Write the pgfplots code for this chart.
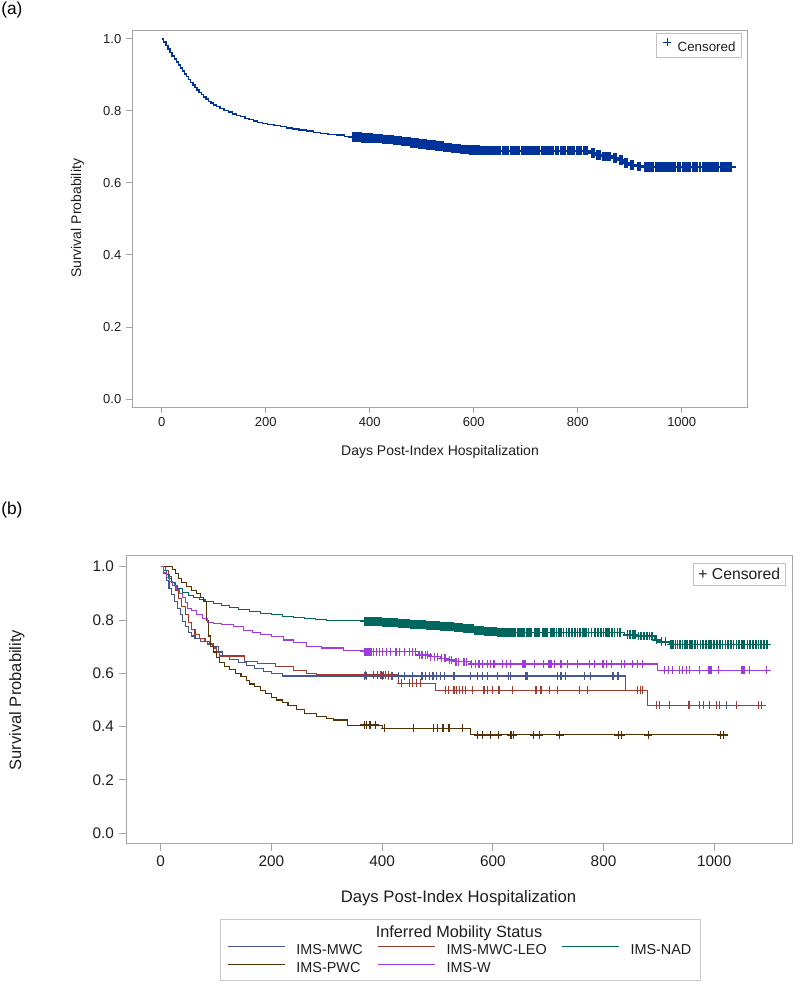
\documentclass[border=0pt]{standalone}
\usepackage{fontspec}
\setmainfont{Liberation Sans}
\usepackage{pgfplots}
\pgfplotsset{compat=1.18}
\definecolor{kmblue}{RGB}{0,51,153}
\definecolor{mwc}{HTML}{445694}
\definecolor{leo}{HTML}{A23A2E}
\definecolor{nad}{HTML}{01665E}
\definecolor{pwc}{HTML}{543005}
\definecolor{imsw}{HTML}{9D3CDB}
\definecolor{axisgray}{RGB}{165,165,165}
\definecolor{txt}{RGB}{30,30,30}
\begin{document}
\begin{tikzpicture}
\useasboundingbox (0,0) rectangle (600pt,-741pt);
\node[anchor=north west, inner sep=0pt, font=\fontsize{13pt}{15pt}\selectfont] at (0.75pt,-1.5pt) {(a)};
\node[anchor=north west, inner sep=0pt, font=\fontsize{13pt}{15pt}\selectfont] at (0.75pt,-376.5pt) {(b)};
% ---------------- panel (a)
\begin{axis}[
  at={(99pt,-305.25pt)}, anchor=south west,
  scale only axis, width=461.55pt, height=282.4pt,
  xmin=-57.1, xmax=1126.3, ymin=-0.0222, ymax=1.0236,
  axis line style={axisgray, line width=0.75pt},
  tick style={axisgray, line width=0.75pt},
  tick align=outside, tick pos=left, major tick length=4.5pt,
  /pgf/number format/assume math mode=true,
  xtick={0,200,400,600,800,1000}, xticklabels={0,200,400,600,800,1000},
  ytick={0,0.2,0.4,0.6,0.8,1}, yticklabels={0.0,0.2,0.4,0.6,0.8,1.0},
  ticklabel style={font=\fontsize{9.75pt}{11pt}\selectfont, text=txt},
  xlabel={Days Post-Index Hospitalization}, ylabel={Survival Probability},
  every axis x label/.style={at={(axis description cs:0.5005,-0.1195)}, anchor=center, font=\fontsize{10.5pt}{12pt}\selectfont, text=txt},
  every axis y label/.style={at={(axis description cs:-0.0886,0.5007)}, anchor=center, rotate=90, font=\fontsize{10.5pt}{12pt}\selectfont, text=txt},
  legend style={at={(axis description cs:0.9912,0.994)}, anchor=north east, draw=axisgray!70, fill=white,
    inner xsep=4.7pt, inner ysep=4.1pt, font=\fontsize{10pt}{12pt}\selectfont, column sep=4pt,
    nodes={inner sep=0pt, text height=7.5pt, text depth=0pt, text=txt}},
  legend image code/.code={\draw[#1] plot coordinates {(3.5pt,3pt)}; \path (0pt,0pt) (7pt,0pt);},
]
\addplot[const plot, kmblue, line width=1pt, forget plot] coordinates {
(0,1.000) (4,0.992) (8,0.982) (12,0.972) (16,0.962) (20,0.953) (24,0.944) (28,0.936) (32,0.928) (36,0.919)
(40,0.911) (44,0.903) (48,0.895) (52,0.887) (56,0.879) (60,0.872) (64,0.865) (68,0.858) (72,0.851) (76,0.845)
(80,0.839) (85,0.833) (90,0.827) (95,0.822) (100,0.817) (106,0.812) (112,0.807) (120,0.802) (128,0.797) (136,0.792)
(144,0.788) (152,0.784) (160,0.780) (168,0.776) (176,0.772) (184,0.768) (194,0.765) (204,0.762) (216,0.759) (228,0.756)
(240,0.753) (252,0.750) (264,0.747) (278,0.744) (292,0.741) (306,0.738) (320,0.735) (336,0.733) (352,0.730) (366,0.727)
(385,0.725) (405,0.723) (425,0.721) (445,0.718) (462,0.715) (478,0.711) (494,0.708) (510,0.705) (526,0.702) (542,0.699)
(558,0.696) (574,0.693) (592,0.691) (612,0.690) (826,0.684) (836,0.678) (846,0.674) (866,0.670) (878,0.664) (888,0.656)
(898,0.650) (912,0.646) (926,0.644) (1096,0.644)};
\addplot[only marks, mark=+, kmblue, mark size=3.6pt, mark options={line width=1.5pt}, forget plot] coordinates {
(368,0.727) (370,0.727) (372,0.727) (374,0.727) (376,0.727) (378,0.727) (380,0.727) (382,0.727) (384,0.727)
(386,0.725) (388,0.725) (390,0.725) (392,0.725) (394,0.725) (396,0.725) (398,0.725) (400,0.725) (402,0.725) (404,0.725)
(406,0.723) (408,0.723) (410,0.723) (412,0.723) (414,0.723) (416,0.723) (418,0.723) (420,0.723) (422,0.723) (424,0.723)
(426,0.721) (428,0.721) (430,0.721) (432,0.721) (434,0.721) (436,0.721) (438,0.721) (440,0.721) (442,0.721) (444,0.721)
(446,0.718) (448,0.718) (450,0.718) (452,0.718) (454,0.718) (456,0.718) (458,0.718) (460,0.718)
(463,0.715) (465,0.715) (467,0.715) (469,0.715) (471,0.715) (473,0.715) (475,0.715) (477,0.715)
(479,0.711) (481,0.711) (483,0.711) (485,0.711) (487,0.711) (489,0.711) (491,0.711) (493,0.711)
(495,0.708) (497,0.708) (499,0.708) (501,0.708) (503,0.708) (505,0.708) (507,0.708) (509,0.708)
(511,0.705) (513,0.705) (515,0.705) (517,0.705) (519,0.705) (521,0.705) (523,0.705) (525,0.705)
(527,0.702) (529,0.702) (531,0.702) (533,0.702) (535,0.702) (537,0.702) (539,0.702) (541,0.702)
(543,0.699) (545,0.699) (547,0.699) (549,0.699) (551,0.699) (553,0.699) (555,0.699) (557,0.699)
(559,0.696) (561,0.696) (563,0.696) (565,0.696) (567,0.696) (569,0.696) (571,0.696) (573,0.696)
(575,0.693) (577,0.693) (579,0.693) (581,0.693) (583,0.693) (585,0.693) (587,0.693) (589,0.693) (591,0.693)
(593,0.691) (595,0.691) (597,0.691) (599,0.691) (601,0.691) (603,0.691) (605,0.691) (607,0.691) (609,0.691) (611,0.691)
(613,0.690) (615,0.690) (617,0.690) (619,0.690) (621,0.690) (623,0.690) (625,0.690) (627,0.690) (629,0.690) (631,0.690)
(633,0.690) (635,0.690) (637,0.690) (639,0.690) (641,0.690) (643,0.690) (645,0.690) (647,0.690) (649,0.690) (651,0.690)
(656,0.690) (658,0.690) (660,0.690) (662,0.690) (664,0.690) (666,0.690) (671,0.690) (673,0.690) (675,0.690) (677,0.690)
(679,0.690) (681,0.690) (683,0.690) (685,0.690) (687,0.690) (692,0.690) (694,0.690) (696,0.690) (698,0.690) (700,0.690)
(702,0.690) (707,0.690) (709,0.690) (711,0.690) (713,0.690) (715,0.690) (717,0.690) (722,0.690) (724,0.690) (726,0.690)
(731,0.690) (736,0.690) (738,0.690) (740,0.690) (745,0.690) (747,0.690) (749,0.690) (751,0.690) (753,0.690) (758,0.690)
(760,0.690) (762,0.690) (767,0.690) (769,0.690) (771,0.690) (776,0.690) (781,0.690) (783,0.690) (788,0.690) (790,0.690)
(792,0.690) (798,0.690) (800,0.690) (802,0.690) (806,0.690) (812,0.690) (816,0.690) (818,0.690)
(828,0.684) (832,0.684) (838,0.678) (841,0.678) (843,0.678) (849,0.674) (852,0.674) (855,0.674) (858,0.674) (862,0.674)
(869,0.670) (872,0.670) (874,0.670) (881,0.664) (883,0.664) (885,0.664) (891,0.656) (894,0.656) (902,0.650) (905,0.650)
(907,0.650) (915,0.646) (918,0.646) (920,0.646)
(929,0.644) (931,0.644) (933,0.644) (935,0.644) (937,0.644) (939,0.644) (941,0.644) (945,0.644) (950,0.644) (954,0.644)
(958,0.644) (962,0.644) (966,0.644) (968,0.644) (971,0.644) (975,0.644) (977,0.644) (980,0.644) (984,0.644) (986,0.644)
(988,0.644) (993,0.644) (995,0.644) (997,0.644) (1002,0.644) (1006,0.644) (1011,0.644) (1013,0.644) (1016,0.644) (1021,0.644)
(1025,0.644) (1030,0.644) (1035,0.644) (1040,0.644) (1045,0.644) (1047,0.644) (1050,0.644) (1054,0.644) (1058,0.644) (1062,0.644)
(1066,0.644) (1070,0.644) (1075,0.644) (1080,0.644) (1084,0.644) (1086,0.644) (1088,0.644) (1090,0.644) (1092,0.644) (1095,0.644)};
\addlegendimage{only marks, mark=+, color=kmblue, mark size=3pt, mark options={line width=0.8pt, draw=kmblue}}
\addlegendentry{Censored}
\end{axis}
% ---------------- panel (b)
\begin{axis}[
  at={(94.5pt,-632.475pt)}, anchor=south west,
  scale only axis, width=499.7pt, height=215.7pt,
  xmin=-62.7, xmax=1141, ymin=-0.0375, ymax=1.0413,
  axis line style={axisgray, line width=0.75pt},
  tick style={axisgray, line width=0.75pt},
  tick align=outside, tick pos=left, major tick length=5.5pt,
  /pgf/number format/assume math mode=true,
  xtick={0,200,400,600,800,1000}, xticklabels={0,200,400,600,800,1000},
  ytick={0,0.2,0.4,0.6,0.8,1}, yticklabels={0.0,0.2,0.4,0.6,0.8,1.0},
  ticklabel style={font=\fontsize{11.5pt}{13pt}\selectfont, text=txt},
  xlabel={Days Post-Index Hospitalization}, ylabel={Survival Probability},
  every axis x label/.style={at={(axis description cs:0.499,-0.1912)}, anchor=center, font=\fontsize{12.5pt}{14pt}\selectfont, text=txt},
  every axis y label/.style={at={(axis description cs:-0.164,0.498)}, anchor=center, rotate=90, font=\fontsize{12.4pt}{14pt}\selectfont, text=txt},
  legend columns=3,
  legend cell align=left,
  legend style={at={(axis description cs:0.1516,-0.3484)}, anchor=north west, draw=none, fill=none,
    inner sep=0pt, font=\fontsize{10.8pt}{12pt}\selectfont, column sep=0pt, row sep=3.5pt,
    nodes={inner sep=0pt, text height=8pt, text depth=2.2pt, text=txt},
    /tikz/every odd column/.append style={column sep=8.25pt},
    /tikz/every even column/.append style={column sep=11pt}},
  legend image code/.code={\draw[#1, line width=0.9pt] (0pt,3.2pt) -- (42.75pt,3.2pt);},
]
\addplot[const plot, mwc, line width=0.8pt] coordinates {
(0,1.000) (5,0.975) (10,0.950) (15,0.920) (20,0.895) (25,0.870) (30,0.845) (35,0.820) (40,0.795) (45,0.775)
(50,0.755) (55,0.740) (62,0.730) (72,0.720) (84,0.710) (94,0.700) (104,0.680) (112,0.662) (125,0.652) (140,0.642)
(155,0.630) (170,0.618) (185,0.608) (200,0.600) (220,0.590) (839,0.537) (879,0.480) (1090,0.480)};
\addlegendentry{IMS-MWC}
\addplot[const plot, leo, line width=0.8pt] coordinates {
(0,1.000) (8,0.985) (14,0.965) (20,0.940) (26,0.910) (32,0.880) (38,0.850) (44,0.820) (50,0.790) (56,0.765)
(62,0.745) (70,0.730) (80,0.720) (88,0.710) (95,0.695) (100,0.680) (106,0.665) (152,0.645) (175,0.636) (207,0.625)
(240,0.612) (263,0.600) (281,0.594) (430,0.563) (496,0.537) (880,0.480) (1091,0.480)};
\addlegendentry{IMS-MWC-LEO}
\addplot[const plot, nad, line width=0.8pt] coordinates {
(0,1.000) (5,0.985) (10,0.970) (15,0.955) (20,0.942) (25,0.930) (30,0.920) (40,0.905) (50,0.893) (60,0.885)
(70,0.878) (80,0.871) (95,0.862) (110,0.854) (125,0.846) (140,0.839) (160,0.832) (180,0.826) (200,0.820) (220,0.815)
(240,0.811) (260,0.807) (280,0.803) (300,0.800) (330,0.797) (366,0.794) (400,0.790) (430,0.787) (451,0.784) (480,0.779)
(505,0.775) (530,0.771) (547,0.767) (566,0.760) (585,0.756) (608,0.754) (838,0.745) (860,0.740) (893,0.725) (900,0.718)
(919,0.708) (1100,0.708)};
\addlegendentry{IMS-NAD}
\addplot[const plot, pwc, line width=0.8pt] coordinates {
(0,1.000) (22,0.990) (27,0.975) (32,0.955) (38,0.940) (47,0.925) (55,0.910) (64,0.900) (72,0.885) (78,0.870)
(82,0.800) (86,0.740) (90,0.700) (95,0.680) (100,0.660) (106,0.640) (115,0.625) (125,0.615) (135,0.600) (145,0.587)
(155,0.572) (161,0.560) (170,0.550) (180,0.535) (190,0.525) (200,0.510) (210,0.500) (220,0.490) (230,0.480) (246,0.465)
(260,0.450) (282,0.438) (300,0.430) (312,0.425) (337,0.406) (401,0.394) (559,0.369) (1017,0.369)};
\addlegendentry{IMS-PWC}
\addplot[const plot, imsw, line width=0.8pt] coordinates {
(0,1.000) (5,0.980) (10,0.960) (16,0.945) (22,0.930) (28,0.915) (34,0.900) (40,0.885) (45,0.865) (48,0.845)
(55,0.835) (65,0.820) (75,0.805) (85,0.792) (95,0.787) (110,0.782) (131,0.775) (150,0.762) (165,0.752) (180,0.745)
(200,0.738) (221,0.725) (240,0.715) (264,0.702) (290,0.695) (330,0.685) (366,0.681) (465,0.669) (485,0.662) (505,0.656)
(520,0.650) (530,0.644) (560,0.635) (898,0.612) (1098,0.612)};
\addlegendentry{IMS-W}
% censored marks
\addplot[only marks, mark=+, mwc, mark size=3pt, mark options={line width=0.9pt}, forget plot] coordinates {
(368,0.590) (372,0.590) (400,0.590) (412,0.590) (418,0.590) (430,0.590) (440,0.590) (455,0.590) (472,0.590) (478,0.590)
(485,0.590) (492,0.590) (498,0.590) (505,0.590) (512,0.590) (530,0.590) (560,0.590) (572,0.590) (581,0.590) (590,0.590)
(608,0.590) (629,0.590) (632,0.590) (660,0.590) (662,0.590) (717,0.590) (723,0.590) (732,0.590) (765,0.590) (777,0.590)
(817,0.590) (826,0.590) (919,0.480) (974,0.480) (980,0.480) (992,0.480) (1022,0.480)};
\addplot[only marks, mark=+, leo, mark size=3pt, mark options={line width=0.9pt}, forget plot] coordinates {
(370,0.594) (385,0.594) (392,0.594) (398,0.594) (402,0.594) (406,0.594) (412,0.594)
(435,0.563) (450,0.563) (455,0.563) (462,0.563) (470,0.563)
(515,0.537) (520,0.537) (530,0.537) (535,0.537) (540,0.537) (545,0.537) (550,0.537) (563,0.537) (584,0.537) (590,0.537)
(600,0.537) (611,0.537) (635,0.537) (678,0.537) (687,0.537) (702,0.537) (717,0.537) (756,0.537) (771,0.537) (862,0.537)
(867,0.537) (871,0.537)
(895,0.480) (901,0.480) (953,0.480) (956,0.480) (1004,0.480) (1010,0.480) (1040,0.480) (1080,0.480) (1086,0.480)};
\addplot[only marks, mark=+, nad, mark size=3.3pt, mark options={line width=1.2pt}, forget plot] coordinates {
(368,0.794) (370,0.794) (372,0.794) (374,0.794) (376,0.794) (378,0.794) (380,0.794) (382,0.794) (384,0.794) (386,0.794) (388,0.794) (390,0.794) (392,0.794) (394,0.794) (396,0.794) (398,0.794)
(401,0.790) (403,0.790) (405,0.790) (407,0.790) (409,0.790) (411,0.790) (413,0.790) (415,0.790) (417,0.790) (419,0.790) (421,0.790) (423,0.790) (425,0.790) (427,0.790)
(431,0.787) (433,0.787) (435,0.787) (437,0.787) (439,0.787) (441,0.787) (443,0.787) (445,0.787) (447,0.787) (449,0.787)
(452,0.784) (454,0.784) (456,0.784) (458,0.784) (460,0.784) (462,0.784) (464,0.784) (466,0.784) (468,0.784) (470,0.784) (472,0.784) (474,0.784) (476,0.784) (478,0.784)
(481,0.779) (483,0.779) (485,0.779) (487,0.779) (489,0.779) (491,0.779) (493,0.779) (495,0.779) (497,0.779) (499,0.779) (501,0.779) (503,0.779)
(506,0.775) (508,0.775) (510,0.775) (512,0.775) (514,0.775) (516,0.775) (518,0.775) (520,0.775) (522,0.775) (524,0.775) (526,0.775) (528,0.775)
(531,0.771) (533,0.771) (535,0.771) (537,0.771) (539,0.771) (541,0.771) (543,0.771) (545,0.771)
(548,0.767) (550,0.767) (552,0.767) (554,0.767) (556,0.767) (558,0.767) (560,0.767) (562,0.767) (564,0.767)
(567,0.760) (569,0.760) (571,0.760) (573,0.760) (575,0.760) (577,0.760) (579,0.760) (581,0.760) (583,0.760)
(586,0.756) (588,0.756) (590,0.756) (592,0.756) (594,0.756) (596,0.756) (598,0.756) (600,0.756) (602,0.756) (604,0.756) (606,0.756)
(609,0.754) (611,0.754) (613,0.754) (615,0.754) (617,0.754) (619,0.754) (621,0.754) (623,0.754) (625,0.754) (627,0.754)
(629,0.754) (631,0.754) (633,0.754) (635,0.754) (637,0.754) (639,0.754) (641,0.754) (645,0.754) (647,0.754) (649,0.754)
(651,0.754) (653,0.754) (655,0.754) (657,0.754) (662,0.754) (664,0.754) (666,0.754) (668,0.754) (670,0.754) (676,0.754)
(678,0.754) (680,0.754) (682,0.754) (684,0.754) (690,0.754) (692,0.754) (694,0.754) (696,0.754) (698,0.754) (704,0.754)
(706,0.754) (708,0.754) (710,0.754) (715,0.754) (720,0.754) (722,0.754) (724,0.754) (728,0.754) (733,0.754) (738,0.754)
(743,0.754) (748,0.754) (753,0.754) (758,0.754) (763,0.754) (765,0.754) (768,0.754) (773,0.754) (778,0.754) (785,0.754)
(790,0.754) (795,0.754) (800,0.754) (805,0.754) (807,0.754) (810,0.754) (815,0.754) (820,0.754) (825,0.754) (830,0.754)
(843,0.745) (848,0.745) (853,0.745) (855,0.745) (857,0.745)
(863,0.740) (868,0.740) (873,0.740) (878,0.740) (883,0.740) (888,0.740)
(896,0.725) (905,0.718) (912,0.718)
(922,0.708) (924,0.708) (926,0.708) (930,0.708) (934,0.708) (938,0.708) (943,0.708) (947,0.708) (951,0.708) (956,0.708) (958,0.708) (960,0.708)
(965,0.708) (970,0.708) (975,0.708) (980,0.708) (985,0.708) (990,0.708) (992,0.708) (995,0.708) (1000,0.708) (1005,0.708) (1010,0.708)
(1015,0.708) (1020,0.708) (1025,0.708) (1030,0.708) (1035,0.708) (1040,0.708) (1045,0.708) (1050,0.708) (1052,0.708) (1055,0.708) (1060,0.708)
(1065,0.708) (1070,0.708) (1075,0.708) (1080,0.708) (1085,0.708) (1090,0.708) (1095,0.708)};
\addplot[only marks, mark=+, pwc, mark size=3pt, mark options={line width=0.9pt}, forget plot] coordinates {
(368,0.406) (372,0.406) (378,0.406) (388,0.406)
(405,0.394) (457,0.394) (493,0.394) (500,0.394) (510,0.394) (521,0.394) (545,0.394)
(573,0.369) (582,0.369) (596,0.369) (610,0.369) (633,0.369) (637,0.369) (674,0.369) (684,0.369) (721,0.369) (827,0.369)
(832,0.369) (881,0.369) (1012,0.369) (1017,0.369)};
\addplot[only marks, mark=+, imsw, mark size=3pt, mark options={line width=0.9pt}, forget plot] coordinates {
(368,0.681) (370,0.681) (372,0.681) (374,0.681) (376,0.681) (378,0.681) (380,0.681) (385,0.681) (390,0.681) (395,0.681)
(400,0.681) (408,0.681) (415,0.681) (425,0.681) (432,0.681) (440,0.681) (450,0.681) (455,0.681) (460,0.681)
(468,0.669) (472,0.669) (478,0.669) (482,0.669)
(488,0.662) (495,0.662) (500,0.662)
(508,0.656) (512,0.656) (515,0.656)
(522,0.650) (526,0.650)
(533,0.644) (535,0.644) (538,0.644) (548,0.644) (553,0.644)
(562,0.635) (568,0.635) (575,0.635) (582,0.635) (590,0.635) (596,0.635) (602,0.635) (617,0.635) (625,0.635) (632,0.635)
(654,0.635) (656,0.635) (658,0.635) (675,0.635) (692,0.635) (700,0.635) (702,0.635) (705,0.635) (711,0.635) (723,0.635)
(735,0.635) (753,0.635) (774,0.635) (783,0.635) (799,0.635) (806,0.635) (814,0.635) (832,0.635) (838,0.635) (853,0.635)
(862,0.635) (871,0.635)
(910,0.612) (917,0.612) (925,0.612) (937,0.612) (943,0.612) (950,0.612) (955,0.612) (974,0.612) (990,0.612) (992,0.612)
(994,0.612) (1007,0.612) (1050,0.612) (1052,0.612) (1054,0.612) (1064,0.612) (1095,0.612)};
\node[draw=axisgray!70, fill=white, inner sep=0pt, minimum width=68.8pt, minimum height=16.2pt,
  font=\fontsize{11.8pt}{13pt}\selectfont, text=txt] at (axis description cs:0.9205,0.9356) {+ Censored};
\end{axis}
\draw[axisgray!60, line width=0.75pt] (165pt,-689.25pt) rectangle (525pt,-735pt);
\node[font=\fontsize{12.2pt}{14pt}\selectfont, text=txt, inner sep=0pt] at (344.25pt,-699.75pt) {Inferred Mobility Status};
\end{tikzpicture}
\end{document}
